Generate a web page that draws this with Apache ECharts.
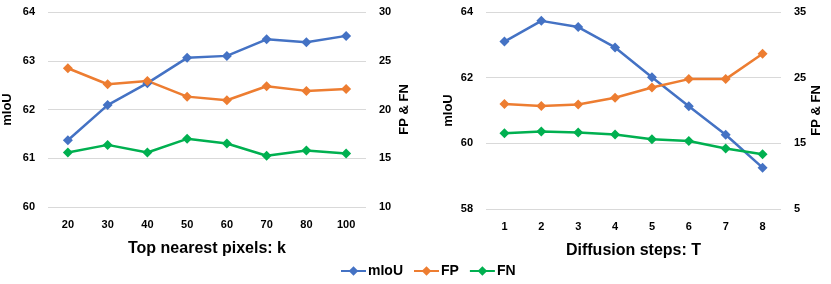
<!DOCTYPE html>
<html>
<head>
<meta charset="utf-8">
<script src="https://cdn.jsdelivr.net/npm/echarts@6/dist/echarts.min.js"></script>
<style>
html,body{margin:0;padding:0;background:#fff;}
#c{width:831px;height:284px;}
</style>
</head>
<body>
<div id="c"></div>
<script>
const leftCats = ['20','30','40','50','60','70','80','100'];
const leftMiou = [61.37, 62.09, 62.54, 63.06, 63.10, 63.44, 63.38, 63.51];
const leftFP = [24.23, 22.59, 22.93, 21.32, 20.95, 22.38, 21.91, 22.11];
const leftFN = [15.59, 16.37, 15.59, 16.99, 16.51, 15.25, 15.79, 15.48];

const rightCats = ['1','2','3','4','5','6','7','8'];
const rightMiou = [63.10, 63.73, 63.54, 62.92, 62.01, 61.13, 60.26, 59.26];
const rightFP = [21.0, 20.7, 20.9, 21.93, 23.5, 24.78, 24.78, 28.64];
const rightFN = [16.55, 16.8, 16.64, 16.34, 15.63, 15.37, 14.2, 13.34];

const FONT = 'Liberation Sans';
const BLUE = '#4472C4', ORANGE = '#ED7D31', GREEN = '#00B050';
const lbl = {fontFamily: FONT, fontWeight: 'bold', fontSize: 11, color: '#000'};
const nameStyleY = {fontFamily: FONT, fontWeight: 'bold', fontSize: 13, color: '#000'};
const nameStyleX = {fontFamily: FONT, fontWeight: 'bold', fontSize: 16, color: '#000'};

function xAx(idx, cats, name){
  return {type:'category', gridIndex: idx, data: cats, boundaryGap: true,
    axisLine:{show:false}, axisTick:{show:false},
    axisLabel: Object.assign({margin: 12}, lbl),
    name: name, nameLocation: 'middle', nameGap: 34, nameTextStyle: nameStyleX};
}
function yAx(idx, min, max, interval, name, pos, grid, gap){
  return {type:'value', gridIndex: idx, min, max, interval, position: pos, name,
    nameLocation:'middle', nameGap: gap, nameTextStyle: nameStyleY,
    axisLine:{show:false}, axisTick:{show:false},
    axisLabel: Object.assign({margin: 13}, lbl),
    splitLine:{show: grid, lineStyle:{color:'#D9D9D9', width:1}}};
}
function ser(name, xi, yi, data, color){
  return {name, type:'line', xAxisIndex: xi, yAxisIndex: yi, data,
    symbol:'diamond', symbolSize: 10, lineStyle:{width:2.5, color}, itemStyle:{color},
    animation:false};
}

const chart = echarts.init(document.getElementById('c'));
chart.setOption({
  animation: false,
  legend: {
    data:['mIoU','FP','FN'], bottom: 1, left: 335,
    itemWidth: 25, itemHeight: 12, itemGap: 10,
    textStyle: {fontFamily: FONT, fontWeight:'bold', fontSize: 14, color:'#000', padding:[0,0,0,-3]}
  },
  grid: [
    {left: 46, right: 465, top: 12, bottom: 77},
    {left: 486, right: 50, top: 12, bottom: 75}
  ],
  xAxis: [xAx(0, leftCats, 'Top nearest pixels: k'), xAx(1, rightCats, 'Diffusion steps: T')],
  yAxis: [
    yAx(0, 60, 64, 1, 'mIoU', 'left', true, 34),
    yAx(0, 10, 30, 5, 'FP & FN', 'right', false, 32),
    yAx(1, 58, 64, 2, 'mIoU', 'left', true, 31),
    yAx(1, 5, 35, 10, 'FP & FN', 'right', false, 25)
  ],
  series: [
    ser('mIoU', 0, 0, leftMiou, BLUE),
    ser('FP', 0, 1, leftFP, ORANGE),
    ser('FN', 0, 1, leftFN, GREEN),
    ser('mIoU', 1, 2, rightMiou, BLUE),
    ser('FP', 1, 3, rightFP, ORANGE),
    ser('FN', 1, 3, rightFN, GREEN)
  ]
});
</script>
</body>
</html>
